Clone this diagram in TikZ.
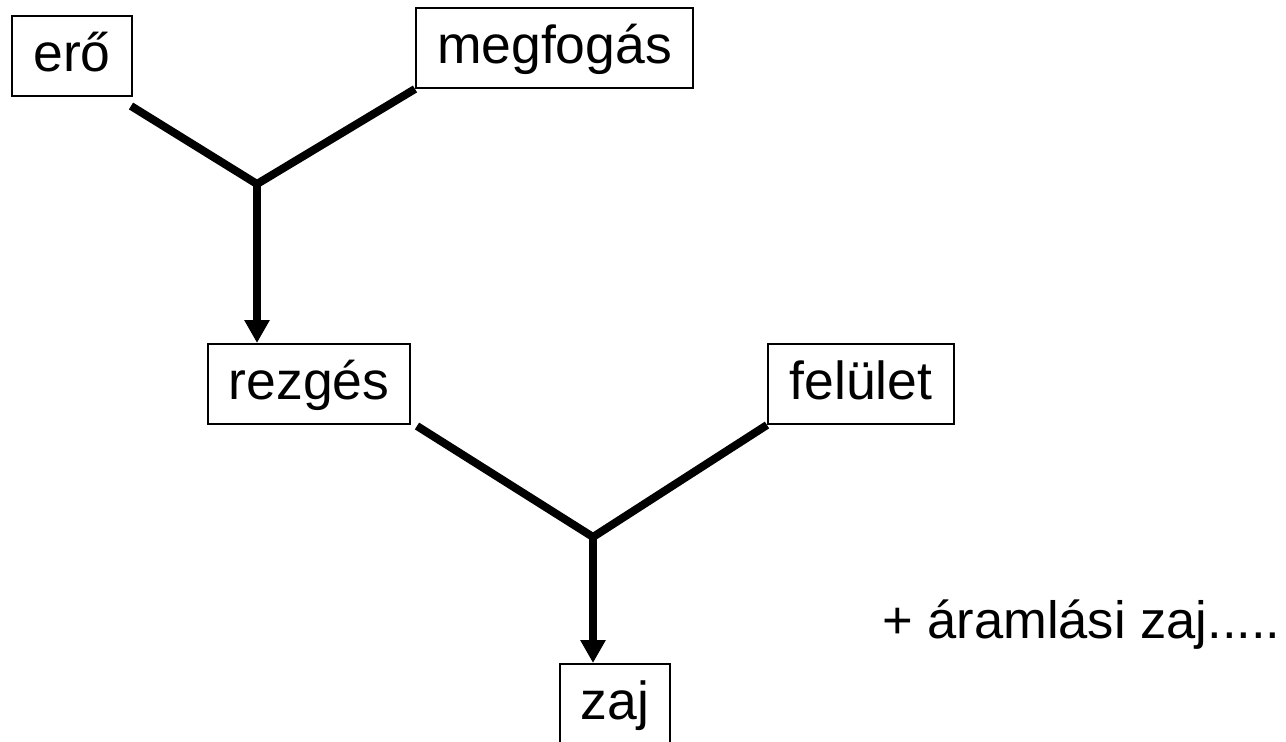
\documentclass[tikz,border=0pt]{standalone}
\usepackage{fontspec}
\setmainfont{Liberation Sans}
\usetikzlibrary{arrows.meta}
\tikzset{
  box/.style={draw=black, line width=2pt, inner sep=0pt, text height=55pt, text depth=25pt, align=center, font=\fontsize{53.5}{60}\selectfont},
  link/.style={line width=8pt, line join=miter},
  arr/.style={line width=8pt, -{Triangle[width=24pt,length=23pt]}},
  note/.style={inner sep=0pt, font=\fontsize{52.5}{60}\selectfont}
}
\begin{document}
\begin{tikzpicture}[x=1pt,y=-1pt]
\useasboundingbox (0,0) rectangle (1286,742);
\node[box, text width=120pt] (ero) at (72,56) {erő};
\node[box, text width=277pt] (megfogas) at (554.5,48) {megfogás};
\node[box, text width=202pt] (rezges) at (309,384) {rezgés};
\node[box, text width=186pt] (felulet) at (861,384) {felület};
\node[box, text width=110pt] (zaj) at (615,704) {zaj};
\node[note, anchor=base west] (aram) at (882,638) {+ áramlási zaj.....};
\coordinate (j1) at (257,184);
\coordinate (j2) at (593,537);
\draw[link] ([xshift=-2pt,yshift=-9pt]ero.south east) -- (j1) -- (megfogas.south west);
\draw[arr] (j1) -- (j1 |- rezges.north);
\draw[link] ([xshift=6pt,yshift=-1pt]rezges.south east) -- (j2) -- (felulet.south west);
\draw[arr] (j2) -- (j2 |- zaj.north);
\end{tikzpicture}
\end{document}
